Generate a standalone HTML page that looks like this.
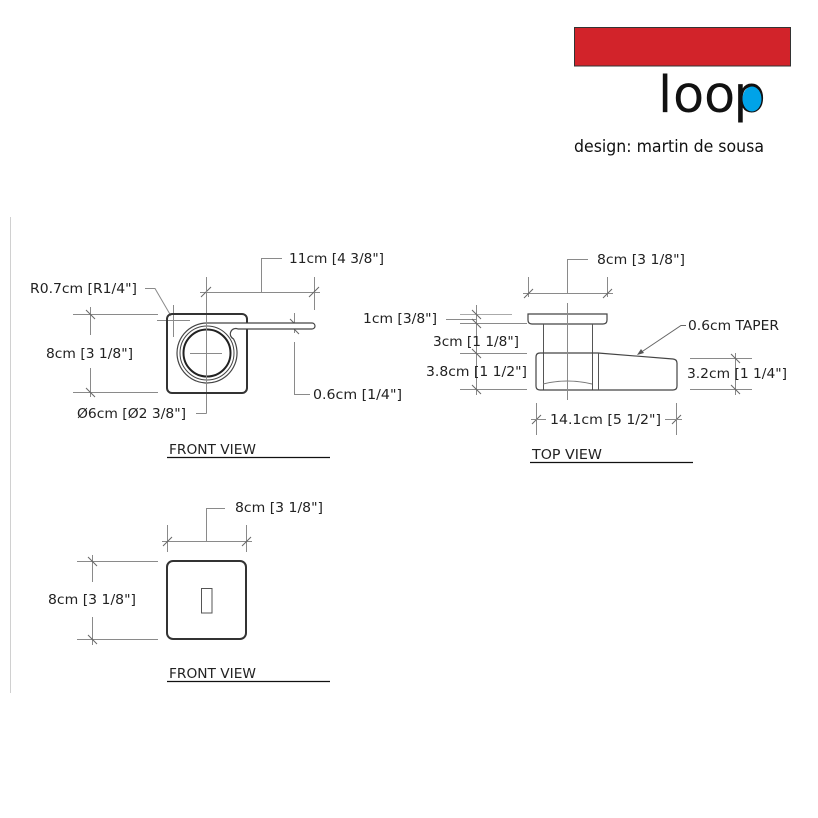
<!DOCTYPE html>
<html>
<head>
<meta charset="utf-8">
<style>
html,body{margin:0;padding:0;background:#fff;}
svg{display:block;}
text{font-family:"DejaVu Sans","Liberation Sans",sans-serif;fill:#222;}
.lbl{font-size:13.5px;}
.dim{stroke:#8a8a8a;stroke-width:1;fill:none;}
.tk{stroke:#666;stroke-width:1;fill:none;}
.obj{stroke:#333;stroke-width:2;fill:none;}
.thin{stroke:#555;stroke-width:1;fill:none;}
.logo{font-size:51px;fill:#111;}
</style>
</head>
<body>
<svg width="818" height="818" viewBox="0 0 818 818" xmlns="http://www.w3.org/2000/svg">
<rect x="0" y="0" width="818" height="818" fill="#fff"/>

<!-- logo -->
<rect x="574.5" y="27.5" width="216" height="38.5" fill="#d2232a" stroke="#333" stroke-width="1"/>
<text class="logo" x="658" y="112">l</text>
<text class="logo" x="673" y="112">o</text>
<text class="logo" x="704" y="112">o</text>
<text class="logo" x="733.5" y="112">p</text>
<ellipse cx="752" cy="99" rx="9.5" ry="12.5" fill="#00a3e8"/>
<text x="574" y="152" font-size="16.5" textLength="190" lengthAdjust="spacingAndGlyphs" style="fill:#111">design: martin de sousa</text>

<!-- left border line -->
<line x1="10.5" y1="217" x2="10.5" y2="693" stroke="#d0d0d0" stroke-width="1"/>

<!-- ===== FRONT VIEW 1 ===== -->
<!-- 11cm dim -->
<line class="dim" x1="200" y1="292.5" x2="320" y2="292.5"/>
<line class="dim" x1="314.5" y1="277" x2="314.5" y2="310"/>
<line class="tk" x1="201" y1="297" x2="211" y2="287"/>
<line class="tk" x1="309" y1="297" x2="319" y2="287"/>
<polyline class="dim" points="261.5,292 261.5,258.5 282,258.5"/>
<text class="lbl" x="289" y="263" textLength="95" lengthAdjust="spacingAndGlyphs">11cm [4 3/8"]</text>

<!-- center line + diameter leader -->
<line class="dim" x1="206.5" y1="277" x2="206.5" y2="413.5"/>
<line class="dim" x1="196" y1="413.5" x2="206.5" y2="413.5"/>
<line class="tk" x1="202" y1="372" x2="211" y2="381"/>
<text class="lbl" x="77" y="418" textLength="109" lengthAdjust="spacingAndGlyphs">Ø6cm [Ø2 3/8"]</text>

<!-- R corner -->
<line class="dim" x1="157" y1="320.5" x2="190" y2="320.5"/>
<line class="dim" x1="173.5" y1="305" x2="173.5" y2="337"/>
<polyline class="dim" points="145,288.5 155,288.5 171,316"/>
<text class="lbl" x="30" y="293" textLength="107" lengthAdjust="spacingAndGlyphs">R0.7cm [R1/4"]</text>

<!-- left 8cm dim -->
<line class="dim" x1="73" y1="314.5" x2="158" y2="314.5"/>
<line class="dim" x1="73" y1="392.5" x2="158" y2="392.5"/>
<line class="dim" x1="90.5" y1="307" x2="90.5" y2="335"/>
<line class="dim" x1="90.5" y1="368" x2="90.5" y2="397"/>
<line class="tk" x1="86" y1="310" x2="95" y2="319"/>
<line class="tk" x1="86" y1="388" x2="95" y2="397"/>
<text class="lbl" x="46" y="358" textLength="87" lengthAdjust="spacingAndGlyphs">8cm [3 1/8"]</text>

<!-- 0.6cm dim -->
<line class="dim" x1="294.5" y1="313" x2="294.5" y2="333"/>
<line class="tk" x1="290" y1="319" x2="299" y2="328"/>
<line class="tk" x1="290" y1="325" x2="299" y2="334"/>
<polyline class="dim" points="294.5,342 294.5,394.5 310,394.5"/>
<text class="lbl" x="313" y="399" textLength="89" lengthAdjust="spacingAndGlyphs">0.6cm [1/4"]</text>

<!-- object -->
<rect class="obj" x="167" y="314" width="80" height="79" rx="5" ry="5"/>
<path d="M207,323 L312,323 A3,3 0 0 1 312,329 L238,329 A4.5,4.5 0 0 0 233.5,338.9 A30,30 0 1 1 207,323 Z" fill="#fff" stroke="#444" stroke-width="1.2"/>
<circle cx="207" cy="353" r="27" fill="none" stroke="#444" stroke-width="1"/>
<circle cx="207" cy="353" r="23.5" fill="none" stroke="#222" stroke-width="2"/>
<line class="dim" x1="190" y1="353.5" x2="222" y2="353.5"/>
<line class="dim" x1="206.5" y1="320" x2="206.5" y2="386"/>

<!-- FRONT VIEW label -->
<text x="169" y="454" font-size="13.5" textLength="87" lengthAdjust="spacingAndGlyphs">FRONT VIEW</text>
<line x1="167" y1="457.5" x2="330" y2="457.5" stroke="#111" stroke-width="1.2"/>

<!-- ===== TOP VIEW ===== -->
<line class="dim" x1="523" y1="293.5" x2="613" y2="293.5"/>
<line class="dim" x1="528.5" y1="277" x2="528.5" y2="297"/>
<line class="dim" x1="607.5" y1="277" x2="607.5" y2="297"/>
<line class="tk" x1="524" y1="298" x2="533" y2="289"/>
<line class="tk" x1="603" y1="298" x2="612" y2="289"/>
<polyline class="dim" points="567.5,293 567.5,259.5 588,259.5"/>
<text class="lbl" x="597" y="264" textLength="88" lengthAdjust="spacingAndGlyphs">8cm [3 1/8"]</text>

<line class="dim" x1="567.5" y1="303" x2="567.5" y2="400"/>

<line x1="460" y1="314.5" x2="512" y2="314.5" stroke="#aaa" stroke-width="1"/>
<line class="dim" x1="460" y1="323.5" x2="527" y2="323.5"/>
<line class="dim" x1="460" y1="353.5" x2="527" y2="353.5"/>
<line class="dim" x1="460" y1="389.5" x2="527" y2="389.5"/>
<line class="dim" x1="476.5" y1="305" x2="476.5" y2="395"/>
<line class="dim" x1="446" y1="319.5" x2="476" y2="319.5"/>
<line class="tk" x1="472" y1="310" x2="481" y2="319"/>
<line class="tk" x1="472" y1="319" x2="481" y2="328"/>
<line class="tk" x1="472" y1="349" x2="481" y2="358"/>
<line class="tk" x1="472" y1="385" x2="481" y2="394"/>
<text class="lbl" x="363" y="323" textLength="74" lengthAdjust="spacingAndGlyphs">1cm [3/8"]</text>
<text class="lbl" x="433" y="346" textLength="86" lengthAdjust="spacingAndGlyphs">3cm [1 1/8"]</text>
<text class="lbl" x="426" y="376" textLength="101" lengthAdjust="spacingAndGlyphs">3.8cm [1 1/2"]</text>

<path d="M528,314 H607 V320 Q607,324 603,324 H532 Q528,324 528,320 Z" fill="#fff" stroke="#444" stroke-width="1.2"/>
<line class="thin" x1="543.5" y1="324" x2="543.5" y2="390"/>
<line class="thin" x1="592.5" y1="324" x2="592.5" y2="390"/>
<path d="M540,353 H598 L673,359 Q677,359.5 677,363 V386 Q677,390 673,390 H540 Q536,390 536,386 V357 Q536,353 540,353 Z" fill="none" stroke="#444" stroke-width="1.2"/>
<line class="thin" x1="598.5" y1="353" x2="598.5" y2="390"/>
<path d="M543,384 Q567,378 592,384" fill="none" stroke="#777" stroke-width="1"/>
<line class="dim" x1="567.5" y1="303" x2="567.5" y2="400"/>

<polyline points="686,325.5 681,325.5 640,353" fill="none" stroke="#666" stroke-width="1"/>
<path d="M637,355 L641,349 L644,353 Z" fill="#555"/>
<text class="lbl" x="688" y="330" textLength="91" lengthAdjust="spacingAndGlyphs">0.6cm TAPER</text>

<line class="dim" x1="690" y1="358.5" x2="752" y2="358.5"/>
<line class="dim" x1="690" y1="389.5" x2="752" y2="389.5"/>
<line class="dim" x1="735.5" y1="353" x2="735.5" y2="395"/>
<line class="tk" x1="731" y1="354" x2="740" y2="363"/>
<line class="tk" x1="731" y1="385" x2="740" y2="394"/>
<text class="lbl" x="687" y="378" textLength="100" lengthAdjust="spacingAndGlyphs">3.2cm [1 1/4"]</text>

<line class="dim" x1="536.5" y1="403" x2="536.5" y2="435"/>
<line class="dim" x1="676.5" y1="403" x2="676.5" y2="435"/>
<line class="tk" x1="532" y1="424" x2="541" y2="415"/>
<line class="tk" x1="672" y1="424" x2="681" y2="415"/>
<line class="dim" x1="531" y1="419.5" x2="546" y2="419.5"/>
<line class="dim" x1="665" y1="419.5" x2="682" y2="419.5"/>
<text class="lbl" x="550" y="424" textLength="111" lengthAdjust="spacingAndGlyphs">14.1cm [5 1/2"]</text>

<text x="532" y="459" font-size="13.5" textLength="70" lengthAdjust="spacingAndGlyphs">TOP VIEW</text>
<line x1="530" y1="462.5" x2="693" y2="462.5" stroke="#111" stroke-width="1.2"/>

<!-- ===== FRONT VIEW 2 ===== -->
<line class="dim" x1="162" y1="541.5" x2="252" y2="541.5"/>
<line class="dim" x1="167.5" y1="525" x2="167.5" y2="552"/>
<line class="dim" x1="246.5" y1="525" x2="246.5" y2="552"/>
<line class="tk" x1="163" y1="546" x2="172" y2="537"/>
<line class="tk" x1="242" y1="546" x2="251" y2="537"/>
<polyline class="dim" points="206.5,541 206.5,508.5 225,508.5"/>
<text class="lbl" x="235" y="512" textLength="88" lengthAdjust="spacingAndGlyphs">8cm [3 1/8"]</text>

<line class="dim" x1="77" y1="561.5" x2="158" y2="561.5"/>
<line class="dim" x1="77" y1="639.5" x2="158" y2="639.5"/>
<line class="dim" x1="92.5" y1="555" x2="92.5" y2="582"/>
<line class="dim" x1="92.5" y1="617" x2="92.5" y2="645"/>
<line class="tk" x1="88" y1="557" x2="97" y2="566"/>
<line class="tk" x1="88" y1="635" x2="97" y2="644"/>
<text class="lbl" x="48" y="604" textLength="88" lengthAdjust="spacingAndGlyphs">8cm [3 1/8"]</text>

<rect class="obj" x="167" y="561" width="79" height="78" rx="6" ry="6"/>
<rect x="201.5" y="588.5" width="10.5" height="24.5" fill="none" stroke="#555" stroke-width="1"/>

<text x="169" y="678" font-size="13.5" textLength="87" lengthAdjust="spacingAndGlyphs">FRONT VIEW</text>
<line x1="167" y1="681.5" x2="330" y2="681.5" stroke="#111" stroke-width="1.2"/>
</svg>
</body>
</html>
